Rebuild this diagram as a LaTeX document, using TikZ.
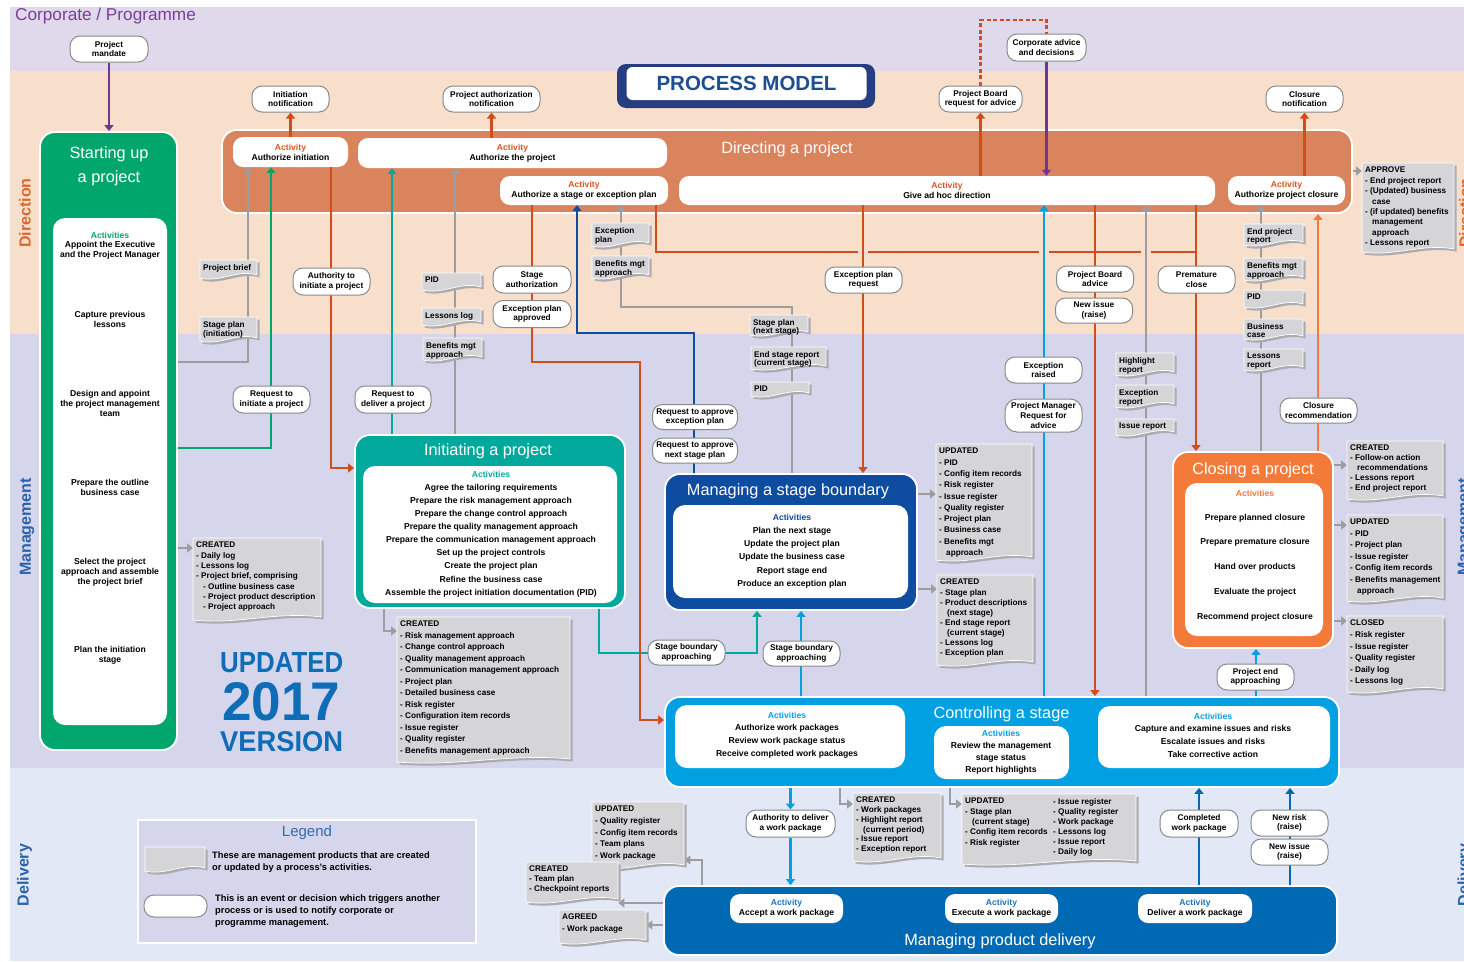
\documentclass[tikz,border=0pt]{standalone}
\usepackage{fontspec}
\setmainfont{Liberation Sans}
\usepackage{graphicx}
\usetikzlibrary{arrows.meta}

% colours
\definecolor{corpbg}{HTML}{DFD9EB}
\definecolor{dirbg}{HTML}{F7DFCC}
\definecolor{mgtbg}{HTML}{D5D6EB}
\definecolor{delbg}{HTML}{E2E8F5}
\definecolor{purp}{HTML}{6E3796}
\definecolor{corptxt}{HTML}{7C3E98}
\definecolor{dirfill}{HTML}{D9845C}
\definecolor{orn}{HTML}{D24D1D}
\definecolor{actorn}{HTML}{D9541E}
\definecolor{sugreen}{HTML}{00A66B}
\definecolor{ipteal}{HTML}{00A99C}
\definecolor{msbnavy}{HTML}{0E4C9F}
\definecolor{cscyan}{HTML}{00A0E2}
\definecolor{mpdblue}{HTML}{0069B3}
\definecolor{cporn}{HTML}{F47A3A}
\definecolor{gline}{HTML}{9D9DA0}
\definecolor{docfill}{HTML}{D5D5D7}
\definecolor{docshade}{HTML}{ABABB0}
\definecolor{evline}{HTML}{8A8A8A}
\definecolor{framenavy}{HTML}{263E80}
\definecolor{pmtxt}{HTML}{1D4E91}
\definecolor{dirlabel}{HTML}{D8692C}
\definecolor{bluelabel}{HTML}{2A62AE}
\definecolor{verblue}{HTML}{0F6CB6}
\definecolor{legblue}{HTML}{2D6DB4}
\definecolor{actblue}{HTML}{1A74C3}

% fonts
\newcommand\fntact{\fontsize{8.6}{10}\selectfont\bfseries}
\newcommand\fntev{\fontsize{8.3}{9.6}\selectfont\bfseries}
\newcommand\fnttitle{\fontsize{16.3}{24}\selectfont}
\newcommand\dind{\hspace*{7pt}}

% management product: grey sheet with a wavy lower edge and a shadow
% #1 line spacing, #2 name, #3 x, #4 y, #5 width, #6 height, #7 text
\newcommand\doc[7][10]{%
  \begin{scope}[shift={(#3,#4)}]
    \fill[docshade] (2.5,2.5) -- ({#5+2.5},2.5) -- ({#5+2.5},{#6-0.5})
      .. controls ({0.65*#5+2.5},{#6-6.5}) and ({0.35*#5+2.5},{#6+7.5}) .. (2.5,{#6+2.5}) -- cycle;
    \filldraw[fill=docfill,draw=white,line width=0.7pt] (0,0) -- (#5,0) -- (#5,{#6-3})
      .. controls ({0.65*#5},{#6-9}) and ({0.35*#5},{#6+5}) .. (0,#6) -- cycle;
    \node[inner sep=0pt,minimum width=#5,minimum height=#6,anchor=north west] (#2) at (0,0) {};
    \node[inner sep=0pt,anchor=north west,align=left,font=\fontsize{8.2}{#1}\selectfont\bfseries] (#2-t) at (3,4) {#7};
  \end{scope}}

\pgfdeclarelayer{back}
\pgfdeclarelayer{boxes}
\pgfdeclarelayer{lines}
\pgfsetlayers{back,boxes,lines,main}

\tikzset{
  ev/.style={draw=evline, fill=white, line width=1pt, rounded corners=10pt, align=center, inner sep=1pt, font=\fntev},
  act/.style={fill=white, rounded corners=10pt, align=center, inner sep=1pt, font=\fntact},
  proc/.style={draw=white, line width=1.8pt, rounded corners=15pt, inner sep=0pt},
  panel/.style={fill=white, rounded corners=12pt, inner sep=0pt},
  ptitle/.style={text=white, font=\fnttitle, inner sep=0pt, align=center},
  plist/.style={align=center, font=\fntact, inner sep=0pt},
  cn/.style={line width=2.8pt},
  ar/.style={-{Triangle[length=6pt,width=9pt]}},
  sidelab/.style={rotate=90, font=\fontsize{16}{16}\selectfont\bfseries, inner sep=0pt},
}

\begin{document}
\begin{tikzpicture}[x=1pt,y=-1pt]
\useasboundingbox (0,0) rectangle (1464,961);

% ---------------- swim lanes ----------------
\begin{pgfonlayer}{back}
  \fill[white] (0,0) rectangle (1464,961);
  \fill[corpbg] (10,7) rectangle (1464,71);
  \fill[dirbg] (10,71) rectangle (1464,334);
  \fill[mgtbg] (10,334) rectangle (1464,768);
  \fill[delbg] (10,768) rectangle (1464,961);
\end{pgfonlayer}

\node[anchor=west, text=corptxt, font=\fontsize{17.2}{18}\selectfont, inner sep=0pt] (corp) at (15,16) {Corporate / Programme};
\node[sidelab, text=dirlabel] (lab-dir-l) at (25,213) {Direction};
\node[sidelab, text=bluelabel] (lab-mgt-l) at (27,527) {Management};
\node[sidelab, text=bluelabel] (lab-del-l) at (24.5,875) {Delivery};
\node[sidelab, text=dirlabel] (lab-dir-r) at (1465,213) {Direction};
\node[sidelab, text=bluelabel] (lab-mgt-r) at (1465,527) {Management};
\node[sidelab, text=bluelabel] (lab-del-r) at (1465,875) {Delivery};

% title
\node[fill=framenavy, rounded corners=9pt, minimum width=258, minimum height=44, inner sep=0pt] (pm-frame) at (746,86) {};
\node[fill=white, rounded corners=6pt, minimum width=240, minimum height=33, inner sep=0pt, text=pmtxt,
      font=\fontsize{20.5}{22}\selectfont\bfseries] (pm) at (746.5,83.5) {PROCESS MODEL};

% ---------------- processes ----------------
\begin{pgfonlayer}{boxes}
  % Starting up a project
  \node[proc, fill=sugreen, minimum width=137, minimum height=618] (su) at (108.5,441) {};
  \node[panel, minimum width=114, minimum height=507] (su-in) at (110,471.5) {};
  \node[ptitle] (su-title) at (109,166) {Starting up\\a project};
  \node[plist] (su-a0) at (110,235.5) {\textcolor{sugreen}{Activities}};
  \node[plist] (su-a1) at (110,250.5) {Appoint the Executive\\and the Project Manager};
  \node[plist] (su-a2) at (110,319.5) {Capture previous\\lessons};
  \node[plist] (su-a3) at (110,403) {Design and appoint\\the project management\\team};
  \node[plist] (su-a4) at (110,487.5) {Prepare the outline\\business case};
  \node[plist] (su-a5) at (110,572) {Select the project\\approach and assemble\\the project brief};
  \node[plist] (su-a6) at (110,655.5) {Plan the initiation\\stage};

  % Directing a project
  \node[proc, fill=dirfill, minimum width=1130, minimum height=83] (dir) at (787,171.5) {};
  \node[ptitle] (dir-title) at (787,149) {Directing a project};
  \node[act, minimum width=115, minimum height=30] (a-init) at (290.5,152) {\textcolor{actorn}{Activity}\\Authorize initiation};
  \node[act, minimum width=309, minimum height=30] (a-proj) at (512.5,153) {\textcolor{actorn}{Activity}\\Authorize the project};
  \node[act, minimum width=168, minimum height=29] (a-stage) at (584,190.5) {\textcolor{actorn}{Activity}\\Authorize a stage or exception plan};
  \node[act, minimum width=536, minimum height=29] (a-adhoc) at (947,190.5) {\textcolor{actorn}{Activity}\\Give ad hoc direction};
  \node[act, minimum width=117, minimum height=29] (a-close) at (1286.5,190.5) {\textcolor{actorn}{Activity}\\Authorize project closure};

  % Initiating a project
  \node[proc, fill=ipteal, minimum width=270, minimum height=173] (ip) at (490,521.5) {};
  \node[panel, minimum width=254, minimum height=137] (ip-in) at (490,534.5) {};
  \node[ptitle] (ip-title) at (488,451) {Initiating a project};
  \node[plist, font=\fontsize{8.6}{13.1}\selectfont\bfseries] (ip-list) at (491,534) {\textcolor{ipteal}{Activities}\\
    Agree the tailoring requirements\\Prepare the risk management approach\\Prepare the change control approach\\
    Prepare the quality management approach\\Prepare the communication management approach\\
    Set up the project controls\\Create the project plan\\Refine the business case\\
    Assemble the project initiation documentation (PID)};

  % Managing a stage boundary
  \node[proc, fill=msbnavy, minimum width=252, minimum height=136] (msb) at (791,542) {};
  \node[panel, minimum width=235, minimum height=93] (msb-in) at (790.5,551.5) {};
  \node[ptitle] (msb-title) at (788,491) {Managing a stage boundary};
  \node[plist, font=\fontsize{8.6}{13.2}\selectfont\bfseries] (msb-list) at (792,551) {\textcolor{msbnavy}{Activities}\\
    Plan the next stage\\Update the project plan\\Update the business case\\Report stage end\\Produce an exception plan};

  % Closing a project
  \node[proc, fill=cporn, minimum width=160, minimum height=196] (cp) at (1253,550) {};
  \node[panel, minimum width=138, minimum height=153] (cp-in) at (1254,559.5) {};
  \node[ptitle] (cp-title) at (1253,470) {Closing a project};
  \node[plist] (cp-a0) at (1255,493.5) {\textcolor{cporn}{Activities}};
  \node[plist, font=\fontsize{8.6}{24.75}\selectfont\bfseries] (cp-list) at (1255,567.5) {Prepare planned closure\\
    Prepare premature closure\\Hand over products\\Evaluate the project\\Recommend project closure};

  % Controlling a stage
  \node[proc, fill=cscyan, minimum width=674, minimum height=90] (cs) at (1002,742) {};
  \node[panel, minimum width=230, minimum height=63] (cs-in-l) at (790,736.5) {};
  \node[panel, minimum width=135, minimum height=53] (cs-in-m) at (1001.5,752.5) {};
  \node[panel, minimum width=232, minimum height=62] (cs-in-r) at (1214,737) {};
  \node[ptitle] (cs-title) at (1001.5,714) {Controlling a stage};
  \node[plist, font=\fontsize{8.6}{12.6}\selectfont\bfseries] (cs-l) at (787,735) {\textcolor{cscyan}{Activities}\\
    Authorize work packages\\Review work package status\\Receive completed work packages};
  \node[plist, font=\fontsize{8.6}{12}\selectfont\bfseries] (cs-m) at (1001,752) {\textcolor{cscyan}{Activities}\\
    Review the management\\stage status\\Report highlights};
  \node[plist, font=\fontsize{8.6}{12.7}\selectfont\bfseries] (cs-r) at (1213,735) {\textcolor{cscyan}{Activities}\\
    Capture and examine issues and risks\\Escalate issues and risks\\Take corrective action};

  % Managing product delivery
  \node[proc, fill=mpdblue, minimum width=673, minimum height=69] (mpd) at (1000.5,920.5) {};
  \node[ptitle] (mpd-title) at (1000,941) {Managing product delivery};
  \node[act, minimum width=113, minimum height=29] (a-accept) at (786.5,908.5) {\textcolor{actblue}{Activity}\\Accept a work package};
  \node[act, minimum width=113, minimum height=29] (a-exec) at (1001.5,908.5) {\textcolor{actblue}{Activity}\\Execute a work package};
  \node[act, minimum width=114, minimum height=29] (a-deliver) at (1195,908.5) {\textcolor{actblue}{Activity}\\Deliver a work package};
\end{pgfonlayer}

% ---------------- events ----------------
\node[ev, minimum width=78, minimum height=26] (mandate) at (109,49) {Project\\mandate};
\node[ev, minimum width=77, minimum height=26] (initnot) at (290.5,99) {Initiation\\notification};
\node[ev, minimum width=97, minimum height=26] (projauth) at (491.5,99) {Project authorization\\notification};
\node[ev, minimum width=83, minimum height=26] (pbreq) at (980.5,99) {Project Board\\request for advice};
\node[ev, minimum width=79, minimum height=27] (corpadv) at (1046.5,47.5) {Corporate advice\\and decisions};
\node[ev, minimum width=77, minimum height=26] (closnot) at (1304.5,99) {Closure\\notification};
\node[ev, minimum width=77, minimum height=27] (authinit) at (331.5,281.5) {Authority to\\initiate a project};
\node[ev, minimum width=77, minimum height=27] (reqinit) at (271.5,399.5) {Request to\\initiate a project};
\node[ev, minimum width=76, minimum height=27] (reqdel) at (393,399.5) {Request to\\deliver a project};
\node[ev, minimum width=78, minimum height=27] (stageauth) at (532,279.5) {Stage\\authorization};
\node[ev, minimum width=78, minimum height=27] (excapp) at (532,314) {Exception plan\\approved};
\node[ev, minimum width=77, minimum height=26] (excreq) at (863.5,280) {Exception plan\\request};
\node[ev, minimum width=77, minimum height=26] (pbadv) at (1095,279) {Project Board\\advice};
\node[ev, minimum width=77, minimum height=25] (newiss1) at (1094,310.5) {New issue\\(raise)};
\node[ev, minimum width=77, minimum height=27] (premclose) at (1196.5,279.5) {Premature\\close};
\node[ev, minimum width=77, minimum height=26] (excraised) at (1043.5,370) {Exception\\raised};
\node[ev, minimum width=77, minimum height=33, rounded corners=12pt] (pmreq) at (1043.5,415.5) {Project Manager\\Request for\\advice};
\node[ev, minimum width=85, minimum height=25] (reqexc) at (695,417) {Request to approve\\exception plan};
\node[ev, minimum width=85, minimum height=25] (reqnext) at (695,450.5) {Request to approve\\next stage plan};
\node[ev, minimum width=77, minimum height=25] (closrec) at (1318.5,410.5) {Closure\\recommendation};
\node[ev, minimum width=77, minimum height=25] (sba1) at (686.5,652.5) {Stage boundary\\approaching};
\node[ev, minimum width=77, minimum height=25] (sba2) at (801.5,653.5) {Stage boundary\\approaching};
\node[ev, minimum width=77, minimum height=26] (pea) at (1255.5,677) {Project end\\approaching};
\node[ev, minimum width=89, minimum height=27] (authwp) at (790.5,823.5) {Authority to deliver\\a work package};
\node[ev, minimum width=78, minimum height=27] (compwp) at (1199,823.5) {Completed\\work package};
\node[ev, minimum width=77, minimum height=26] (newrisk) at (1289.5,823) {New risk\\(raise)};
\node[ev, minimum width=77, minimum height=26] (newiss2) at (1289.5,852) {New issue\\(raise)};

% ---------------- management products ----------------
\doc{d-pbrief}{200}{260}{57}{18}{Project brief}
\doc[9]{d-spinit}{200}{317}{57}{24}{Stage plan\\(initiation)}
\doc{d-pid1}{422}{273}{59}{17}{PID}
\doc{d-llog}{422}{308}{59}{17}{Lessons log}
\doc[9]{d-bmgt1}{423}{338}{59}{22}{Benefits mgt\\approach}
\doc[9.5]{d-excplan}{592}{223}{57}{23}{Exception\\plan}
\doc[9]{d-bmgt2}{592}{256}{57}{22}{Benefits mgt\\approach}
\doc[8.5]{d-spnext}{750}{315}{58}{20}{Stage plan\\(next stage)}
\doc[8.5]{d-esr}{751}{347}{75}{22}{End stage report\\(current stage)}
\doc{d-pid2}{751}{382}{58}{14}{PID}
\doc[8.5]{d-epr}{1244}{224}{59}{21}{End project\\report}
\doc[9]{d-bmgt3}{1244}{258}{59}{22}{Benefits mgt\\approach}
\doc{d-pid3}{1244}{290}{59}{17}{PID}
\doc[8.5]{d-bcase}{1244}{319}{59}{20}{Business\\case}
\doc[8.5]{d-lrep}{1244}{349}{59}{21}{Lessons\\report}
\doc[9]{d-hl}{1116}{353}{58}{22}{Highlight\\report}
\doc[9]{d-excrep}{1116}{385}{58}{22}{Exception\\report}
\doc{d-issrep}{1116}{419}{58}{16}{Issue report}

\doc[10.4]{d-approve}{1362}{163}{92}{89}{APPROVE\\- End project report\\- (Updated) business\\\dind case\\
  - (if updated) benefits\\\dind management\\\dind approach\\- Lessons report}
\doc[10.3]{d-cr-su}{193}{538}{128}{82}{CREATED\\- Daily log\\- Lessons log\\- Project brief, comprising\\
  \dind - Outline business case\\\dind - Project product description\\\dind - Project approach}
\doc[11.5]{d-cr-ip}{397}{617}{173}{145}{CREATED\\- Risk management approach\\- Change control approach\\
  - Quality management approach\\- Communication management approach\\- Project plan\\- Detailed business case\\
  - Risk register\\- Configuration item records\\- Issue register\\- Quality register\\- Benefits management approach}
\doc[11.3]{d-up-msb}{936}{444}{96}{116}{UPDATED\\- PID\\- Config item records\\- Risk register\\- Issue register\\
  - Quality register\\- Project plan\\- Business case\\- Benefits mgt\\\dind approach}
\doc[10.1]{d-cr-msb}{937}{575}{96}{90}{CREATED\\- Stage plan\\- Product descriptions\\\dind (next stage)\\
  - End stage report\\\dind (current stage)\\- Lessons log\\- Exception plan}
\doc[9.8]{d-cr-cp}{1347}{441}{96}{58}{CREATED\\- Follow-on action\\\dind recommendations\\- Lessons report\\- End project report}
\doc[11.5]{d-up-cp}{1347}{515}{96}{86}{UPDATED\\- PID\\- Project plan\\- Issue register\\- Config item records\\
  - Benefits management\\\dind approach}
\doc[11.6]{d-cl-cp}{1347}{616}{96}{76}{CLOSED\\- Risk register\\- Issue register\\- Quality register\\- Daily log\\- Lessons log}
\doc[9.7]{d-cr-cs}{853}{793}{88}{68}{CREATED\\- Work packages\\- Highlight report\\\dind (current period)\\
  - Issue report\\- Exception report}
\doc[10.3]{d-up-cs}{962}{794}{174}{70}{UPDATED\\- Stage plan\\\dind (current stage)\\- Config item records\\- Risk register}
\node[inner sep=0pt, anchor=north west, align=left, font=\fontsize{8.2}{10}\selectfont\bfseries] (d-up-cs-r) at (1053,798)
  {- Issue register\\- Quality register\\- Work package\\- Lessons log\\- Issue report\\- Daily log};
\doc[11.7]{d-up-mpd}{592}{802}{92}{66}{UPDATED\\- Quality register\\- Config item records\\- Team plans\\- Work package}
\doc[10]{d-cr-mpd}{526}{862}{92}{40}{CREATED\\- Team plan\\- Checkpoint reports}
\doc[12]{d-agreed}{559}{910}{87}{33}{AGREED\\- Work package}

% ---------------- version note ----------------
\node[anchor=south west, inner sep=0pt, text=verblue] (upd-a) at (220,673) {\resizebox{123pt}{20pt}{\bfseries UPDATED}};
\node[anchor=south west, inner sep=0pt, text=verblue] (upd-b) at (222,721) {\resizebox{118pt}{38pt}{\bfseries 2017}};
\node[anchor=south west, inner sep=0pt, text=verblue] (upd-c) at (220,752) {\resizebox{123pt}{20pt}{\bfseries VERSION}};

% ---------------- legend ----------------
\node[fill=mgtbg, draw=white, line width=1.5pt, minimum width=338, minimum height=123, anchor=north west, inner sep=0pt] (legend) at (137,819) {};
\node[text=legblue, font=\fontsize{15}{15}\selectfont, inner sep=0pt] (leg-title) at (307,833) {Legend};
\doc{leg-doc}{145}{847}{60}{24}{}
\node[anchor=west, align=left, font=\fontsize{9.3}{12.5}\selectfont\bfseries, inner sep=0pt] (leg-t1) at (212,862)
  {These are management products that are created\\or updated by a process's activities.};
\node[ev, minimum width=63, minimum height=22] (leg-ev) at (175.5,906) {};
\node[anchor=west, align=left, font=\fontsize{9.3}{12.3}\selectfont\bfseries, inner sep=0pt] (leg-t2) at (215,911)
  {This is an event or decision which triggers another\\process or is used to notify corporate or\\programme management.};

% ---------------- connectors ----------------
\begin{pgfonlayer}{lines}
  \coordinate (dtop) at (1000,20);
  % corporate level and notifications
  \draw[cn,purp,ar] (mandate.south) -- (mandate.south |- su.north);
  \draw[cn,orn,ar] (initnot.south |- a-init.north) -- (initnot.south);
  \draw[cn,orn,ar] (projauth.south |- a-proj.north) -- (projauth.south);
  \draw[cn,orn,ar] (pbreq.south |- a-adhoc.north) -- (pbreq.south);
  \draw[cn,orn,dash pattern=on 4pt off 2.5pt] (pbreq.north) -- (pbreq.north |- dtop) -| (corpadv.north);
  \draw[cn,purp,ar] (corpadv.south) -- (corpadv.south |- a-adhoc.north);
  \draw[cn,orn,ar] (closnot.south |- a-close.north) -- (closnot.south);

  % starting up and initiating
  \draw[cn,gline,ar] (su.east |- 0,362) -| (248,0 |- a-init.south);
  \draw[cn,sugreen,ar] (su.east |- 0,448) -| (271,0 |- a-init.south);
  \draw[cn,orn,ar] (331,0 |- a-init.south) |- (ip.west |- 0,468);
  \draw[cn,ipteal,ar] (392,0 |- ip.north) -- (392,0 |- a-proj.south);
  \draw[cn,gline,ar] (455,0 |- ip.north) -- (455,0 |- a-proj.south);

  % stage boundaries
  \draw[cn,ipteal,ar] (599,0 |- ip.south) |- (757,653) -- (757,0 |- msb.south);
  \draw[cn,orn,ar] (532,0 |- a-stage.south) |- (640,362) |- (cs.west |- 0,720);
  \draw[cn,msbnavy,ar] (694,0 |- msb.north) |- (577,333) -- (577,0 |- a-stage.south);
  \draw[cn,gline,ar] (792,0 |- msb.north) |- (621,307) -- (621,0 |- a-stage.south);

  % board direction bus
  \draw[cn,orn] (656,0 |- a-stage.south) |- (858,252);
  \draw[cn,orn] (868,252) -- (1039,252);
  \draw[cn,orn] (1049,252) -- (1141,252);
  \draw[cn,orn] (1151,252) -- (1196,252);
  \draw[cn,orn,ar] (863,0 |- a-adhoc.south) -- (863,0 |- msb.north);
  \draw[cn,cscyan,ar] (1044,0 |- cs.north) -- (1044,0 |- a-adhoc.south);
  \draw[cn,orn,ar] (1095,0 |- a-adhoc.south) -- (1095,0 |- cs.north);
  \draw[cn,gline,ar] (1146,0 |- cs.north) -- (1146,0 |- a-adhoc.south);
  \draw[cn,orn,ar] (1196,0 |- a-adhoc.south) -- (1196,0 |- cp.north);
  \draw[cn,gline,ar] (1261,0 |- cp.north) -- (1261,0 |- a-close.south);
  \draw[cn,cporn,ar] (1318,0 |- cp.north) -- (1318,0 |- dir.south);

  % controlling and delivery
  \draw[cn,cscyan,ar] (801,0 |- cs.north) -- (801,0 |- msb.south);
  \draw[cn,cscyan,ar] (1256,0 |- cs.north) -- (1256,0 |- cp.south);
  \draw[cn,cscyan,ar] (authwp.north |- cs.south) -- (authwp.north);
  \draw[cn,cscyan,ar] (authwp.south) -- (authwp.south |- mpd.north);
  \draw[cn,mpdblue,ar] (1199,0 |- mpd.north) -- (1199,0 |- cs.south);
  \draw[cn,mpdblue,ar] (1290,0 |- mpd.north) -- (1290,0 |- cs.south);

  % products created, updated and closed
  \draw[cn,gline,ar] (dir.east |- 0,171) -- (d-approve.west |- 0,171);
  \draw[cn,gline,ar] (su.east |- 0,548) -- (d-cr-su.west |- 0,548);
  \draw[cn,gline,ar] (384,0 |- ip.south) |- (d-cr-ip.west |- 0,631);
  \draw[cn,gline,ar] (msb.east |- 0,494) -- (d-up-msb.west |- 0,494);
  \draw[cn,gline,ar] (msb.east |- 0,589) -- (d-cr-msb.west |- 0,589);
  \draw[cn,gline,ar] (cp.east |- 0,465) -- (d-cr-cp.west |- 0,465);
  \draw[cn,gline,ar] (cp.east |- 0,525) -- (d-up-cp.west |- 0,525);
  \draw[cn,gline,ar] (cp.east |- 0,621) -- (d-cl-cp.west |- 0,621);
  \draw[cn,gline,ar] (840,0 |- cs.south) |- (d-cr-cs.west |- 0,804);
  \draw[cn,gline,ar] (950,0 |- cs.south) |- (d-up-cs.west |- 0,804);
  \draw[cn,gline,ar] (702,0 |- mpd.north) |- (d-up-mpd.east |- 0,860);
  \draw[cn,gline,ar] (mpd.west |- 0,903) -- (d-cr-mpd.east |- 0,903);
  \draw[cn,gline,ar] (mpd.west |- 0,925) -- (d-agreed.east |- 0,925);
\end{pgfonlayer}

\end{tikzpicture}
\end{document}
